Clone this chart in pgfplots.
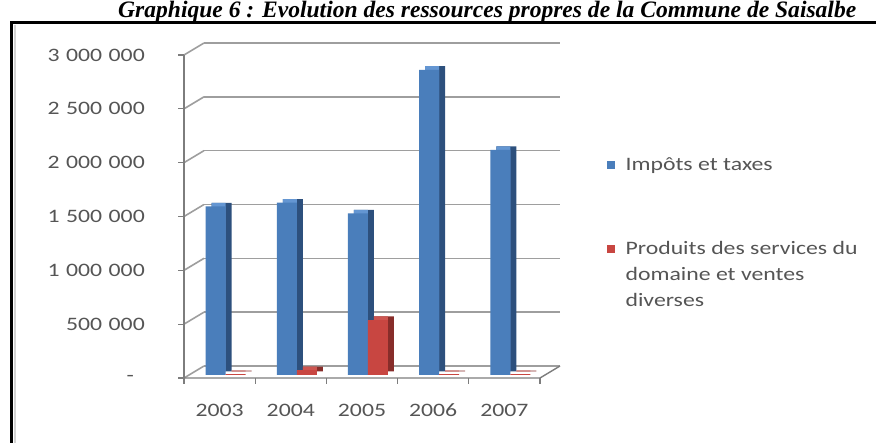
\documentclass[border=0pt]{standalone}
\usepackage{pgfplots}
\pgfplotsset{compat=1.18}
\usepackage{pgfplotstable}
\usepackage{fontspec}
\setmainfont{Carlito}[FakeStretch=1.25]
\newfontfamily\titlefont{Liberation Serif}

\definecolor{labelgray}{RGB}{85,85,85}
\definecolor{gridgray}{RGB}{158,158,158}
\definecolor{axisgray}{RGB}{125,125,125}
\definecolor{impotsfront}{RGB}{74,126,187}
\definecolor{impotsside}{RGB}{45,80,125}
\definecolor{impotstop}{RGB}{100,150,210}
\definecolor{produitsfront}{RGB}{200,70,65}
\definecolor{produitsside}{RGB}{135,45,42}
\definecolor{produitstop}{RGB}{205,85,80}

\newcommand\gsep{\hspace{6.5pt}}

% Ressources propres de la commune, 2003-2007
\pgfplotstableread{
idx annee impots produits
0 2003 1565000 8000
1 2004 1600000 45000
2 2005 1500000 510000
3 2006 2835000 7000
4 2007 2090000 7000
}\ressources

\begin{document}
\begin{tikzpicture}
\useasboundingbox (0,0) rectangle (876pt,443pt);
% cadre
\draw[black, line width=2.5pt] (10pt,420.5pt) -- (876pt,420.5pt);
\draw[black, line width=3pt] (11.5pt,420.5pt) -- (11.5pt,0pt);
\draw[gray!35, line width=2pt] (15pt,418pt) -- (15pt,0pt);
\node[anchor=base west, inner sep=0pt] at (118pt,425.5pt)
  {\resizebox{738pt}{!}{\titlefont\bfseries\itshape Graphique 6 : Evolution des ressources propres de la Commune de Saisalbe}};

\begin{axis}[
  at={(204pt,77pt)}, anchor=south west,
  scale only axis, width=356pt, height=323pt,
  clip=false,
  xmin=-0.5, xmax=4.5, ymin=0, ymax=3000000,
  axis line style={draw=none},
  major tick length=0pt,
  scaled y ticks=false,
  xtick=data, xticklabels={2003,2004,2005,2006,2007},
  ytick={0,500000,1000000,1500000,2000000,2500000,3000000},
  yticklabels={{-\kern11pt},{500\gsep000},{1\gsep000\gsep000},{1\gsep500\gsep000},{2\gsep000\gsep000},{2\gsep500\gsep000},{3\gsep000\gsep000}},
  ymajorgrids, grid style={gridgray, line width=1.6pt},
  tick label style={font=\fontsize{19}{23}\selectfont, text=labelgray},
  yticklabel style={anchor=east, inner sep=0pt, xshift=-59pt, yshift=-12pt},
  xticklabel style={anchor=center, inner sep=0pt, xshift=-20pt, yshift=-44pt},
  legend style={at={(axis description cs:1.132,0.6445)}, anchor=north west,
    draw=none, fill=none, inner sep=0pt, row sep=69pt,
    font=\fontsize{19}{26}\selectfont, text=labelgray,
    cells={align=left}, nodes={inner sep=0pt}},
  legend cell align=left,
]
% murs et plancher en perspective
\pgfplotsinvokeforeach{0,500000,1000000,1500000,2000000,2500000,3000000}{
  \draw[gridgray, line width=1.6pt] ([xshift=-20pt,yshift=-12pt]axis cs:-0.5,#1) -- (axis cs:-0.5,#1);
  \draw[axisgray, line width=1.2pt] ([xshift=-26pt,yshift=-12pt]axis cs:-0.5,#1) -- ([xshift=-20pt,yshift=-12pt]axis cs:-0.5,#1);
}
\draw[axisgray, line width=1.4pt] ([xshift=-20pt,yshift=-12pt]axis cs:-0.5,0) -- ([xshift=-20pt,yshift=-12pt]axis cs:-0.5,3000000);
\draw[axisgray, line width=1.4pt] ([xshift=-20pt,yshift=-12pt]axis cs:-0.5,0) -- ([xshift=-20pt,yshift=-12pt]axis cs:4.5,0) -- (axis cs:4.5,0);
\pgfplotsinvokeforeach{-0.5,0.5,1.5,2.5,3.5,4.5}{
  \draw[axisgray, line width=1.2pt] ([xshift=-20pt,yshift=-12pt]axis cs:#1,0) -- ([xshift=-20pt,yshift=-18pt]axis cs:#1,0);
}

% Impôts et taxes : face latérale, dessus, face avant
\addplot[ybar, forget plot, bar width=20pt, bar shift=-3pt, fill=impotsside, draw=none, xshift=-15pt, yshift=-5.4pt] table[x=idx, y=impots]{\ressources};
\addplot[ybar, forget plot, bar width=14pt, bar shift=-6pt, fill=impotstop, draw=none, xshift=-15pt, yshift=-5.4pt] table[x=idx, y=impots]{\ressources};
\addplot[ybar, forget plot, bar width=20pt, bar shift=-9pt, fill=impotsfront, draw=none, xshift=-15pt, yshift=-9pt] table[x=idx, y=impots]{\ressources};
% Produits des services du domaine et ventes diverses
\addplot[ybar, forget plot, bar width=20pt, bar shift=17pt, fill=produitsside, draw=none, xshift=-15pt, yshift=-5.4pt] table[x=idx, y=produits]{\ressources};
\addplot[ybar, forget plot, bar width=14pt, bar shift=14pt, fill=produitstop, draw=none, xshift=-15pt, yshift=-5.4pt] table[x=idx, y=produits]{\ressources};
\addplot[ybar, forget plot, bar width=20pt, bar shift=11pt, fill=produitsfront, draw=none, xshift=-15pt, yshift=-9pt] table[x=idx, y=produits]{\ressources};

\addlegendimage{legend image code/.code={\fill[impotsfront] (0pt,-3.5pt) rectangle (7pt,3.5pt); \path (18pt,0pt);}}
\addlegendentry{Impôts et taxes}
\addlegendimage{legend image code/.code={\fill[produitsfront] (0pt,22.5pt) rectangle (7pt,29.5pt); \path (18pt,0pt);}}
\addlegendentry{Produits des services du\\domaine et ventes\\diverses}
\end{axis}
\end{tikzpicture}
\end{document}
